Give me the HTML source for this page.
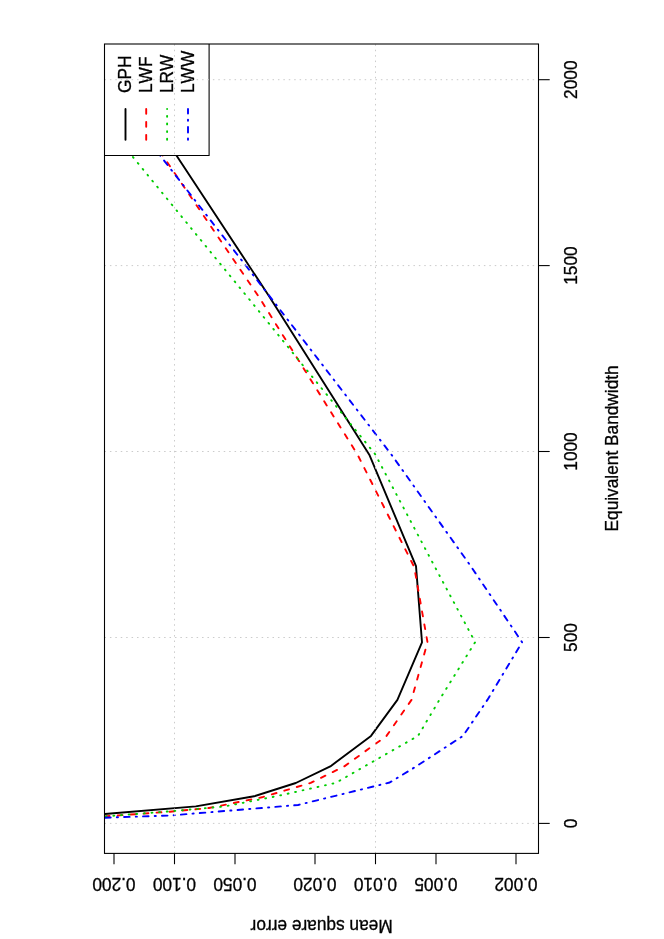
<!DOCTYPE html>
<html><head><meta charset="utf-8"><title>plot</title>
<style>
html,body{margin:0;padding:0;background:#fff;}
body{width:664px;height:939px;overflow:hidden;}
svg{display:block;will-change:transform;opacity:0.9999;}
text{font-family:"Liberation Sans",sans-serif;font-size:17.3px;fill:#000;font-kerning:none;stroke:#000;stroke-width:0.3px;}
</style></head><body>
<svg width="664" height="939" viewBox="0 0 664 939">
<rect x="0" y="0" width="664" height="939" fill="#fff"/>
<defs><clipPath id="c"><rect x="104.5" y="44.0" width="434.0" height="809.4"/></clipPath></defs>
<g clip-path="url(#c)" fill="none" stroke-width="1.9" stroke-linecap="round" stroke-linejoin="round">
<polyline points="60.0,817.8 104.8,814.0 195.8,806.4 254.1,796.3 295.8,783.0 330.3,766.4 371.0,735.9 397.4,699.9 422.0,642.3 416.0,566.1 369.3,454.7 269.1,296.3 176.8,155.9 122.6,73.4" stroke="#000"/>
<polyline points="60.0,819.6 104.8,816.4 170.0,811.7 209.0,808.0 262.0,797.3 310.7,782.9 344.3,766.4 386.5,735.9 411.5,699.9 427.5,642.3 414.2,567.0 357.6,454.7 258.5,296.3 162.7,155.6 106.0,73.4" stroke="#ff0000" stroke-dasharray="4.85 8.15" stroke-dashoffset="7.2"/>
<polyline points="60.0,819.9 104.8,816.4 170.0,811.3 225.0,806.4 278.0,795.9 335.8,782.9 364.5,766.4 418.0,735.9 439.4,699.9 475.2,642.2 434.3,565.8 375.0,454.0 246.8,296.3 132.0,155.9 64.5,73.4" stroke="#00cd00" stroke-dasharray="0.9 6.75"/>
<polyline points="60.0,819.2 104.8,817.7 170.0,815.5 298.0,805.0 389.7,782.5 416.2,766.4 463.0,735.9 487.4,699.9 522.1,642.2 470.5,565.8 391.5,454.7 269.7,296.3 160.2,155.6 96.0,73.4" stroke="#0000ff" stroke-dasharray="1.15 6.125 5.55 6.125"/>
</g>
<rect x="104.5" y="44.0" width="104.6" height="111.5" fill="#fff"/>
<polyline points="104.5,155.5 209.1,155.5 209.1,44.0" fill="none" stroke="#000" stroke-width="1.08"/>
<line x1="125.5" y1="139.7" x2="125.5" y2="108.9" stroke="#000" stroke-width="1.9" stroke-linecap="round"/>
<text transform="translate(131.2,93.0) rotate(-90) scale(1,1.04)">GPH</text>
<line x1="146.2" y1="139.7" x2="146.2" y2="108.9" stroke="#ff0000" stroke-width="1.9" stroke-linecap="round" stroke-dasharray="4.85 8.15"/>
<text transform="translate(151.89999999999998,93.0) rotate(-90) scale(1,1.04)">LWF</text>
<line x1="167.1" y1="139.7" x2="167.1" y2="108.9" stroke="#00cd00" stroke-width="1.9" stroke-linecap="round" stroke-dasharray="0.9 6.75"/>
<text transform="translate(172.79999999999998,93.0) rotate(-90) scale(1,1.04)">LRW</text>
<line x1="188.0" y1="139.7" x2="188.0" y2="108.9" stroke="#0000ff" stroke-width="1.9" stroke-linecap="round" stroke-dasharray="1.15 6.125 5.55 6.125"/>
<text transform="translate(193.7,93.0) rotate(-90) scale(1,1.04)">LWW</text>
<line x1="104.5" y1="823.4" x2="538.5" y2="823.4" stroke="#cbcbcb" stroke-width="1" stroke-dasharray="1.5 3.92"/>
<line x1="104.5" y1="637.5" x2="538.5" y2="637.5" stroke="#cbcbcb" stroke-width="1" stroke-dasharray="1.5 3.92"/>
<line x1="104.5" y1="451.5" x2="538.5" y2="451.5" stroke="#cbcbcb" stroke-width="1" stroke-dasharray="1.5 3.92"/>
<line x1="104.5" y1="265.6" x2="538.5" y2="265.6" stroke="#cbcbcb" stroke-width="1" stroke-dasharray="1.5 3.92"/>
<line x1="104.5" y1="79.7" x2="538.5" y2="79.7" stroke="#cbcbcb" stroke-width="1" stroke-dasharray="1.5 3.92"/>
<line x1="174.5" y1="853.4" x2="174.5" y2="44.0" stroke="#cbcbcb" stroke-width="1" stroke-dasharray="1.5 3.92"/>
<line x1="375.5" y1="853.4" x2="375.5" y2="44.0" stroke="#cbcbcb" stroke-width="1" stroke-dasharray="1.5 3.92"/>
<rect x="104.5" y="44.0" width="434.0" height="809.4" fill="none" stroke="#000" stroke-width="1.08"/>
<line x1="538.5" y1="823.4" x2="549.7" y2="823.4" stroke="#000" stroke-width="1.08"/>
<text text-anchor="middle" transform="translate(576.7,823.4) rotate(-90) scale(1,1.04)">0</text>
<line x1="538.5" y1="637.5" x2="549.7" y2="637.5" stroke="#000" stroke-width="1.08"/>
<text text-anchor="middle" transform="translate(576.7,637.5) rotate(-90) scale(1,1.04)">500</text>
<line x1="538.5" y1="451.5" x2="549.7" y2="451.5" stroke="#000" stroke-width="1.08"/>
<text text-anchor="middle" transform="translate(576.7,451.5) rotate(-90) scale(1,1.04)">1000</text>
<line x1="538.5" y1="265.6" x2="549.7" y2="265.6" stroke="#000" stroke-width="1.08"/>
<text text-anchor="middle" transform="translate(576.7,265.6) rotate(-90) scale(1,1.04)">1500</text>
<line x1="538.5" y1="79.7" x2="549.7" y2="79.7" stroke="#000" stroke-width="1.08"/>
<text text-anchor="middle" transform="translate(576.7,79.7) rotate(-90) scale(1,1.04)">2000</text>
<line x1="114.0" y1="853.4" x2="114.0" y2="864.1999999999999" stroke="#000" stroke-width="1.08"/>
<text text-anchor="middle" transform="translate(114.0,878.0) rotate(180) scale(1,1.04)">0.200</text>
<line x1="174.5" y1="853.4" x2="174.5" y2="864.1999999999999" stroke="#000" stroke-width="1.08"/>
<text text-anchor="middle" transform="translate(174.5,878.0) rotate(180) scale(1,1.04)">0.100</text>
<line x1="235.0" y1="853.4" x2="235.0" y2="864.1999999999999" stroke="#000" stroke-width="1.08"/>
<text text-anchor="middle" transform="translate(235.0,878.0) rotate(180) scale(1,1.04)">0.050</text>
<line x1="315.0" y1="853.4" x2="315.0" y2="864.1999999999999" stroke="#000" stroke-width="1.08"/>
<text text-anchor="middle" transform="translate(315.0,878.0) rotate(180) scale(1,1.04)">0.020</text>
<line x1="375.5" y1="853.4" x2="375.5" y2="864.1999999999999" stroke="#000" stroke-width="1.08"/>
<text text-anchor="middle" transform="translate(375.5,878.0) rotate(180) scale(1,1.04)">0.010</text>
<line x1="436.0" y1="853.4" x2="436.0" y2="864.1999999999999" stroke="#000" stroke-width="1.08"/>
<text text-anchor="middle" transform="translate(436.0,878.0) rotate(180) scale(1,1.04)">0.005</text>
<line x1="516.0" y1="853.4" x2="516.0" y2="864.1999999999999" stroke="#000" stroke-width="1.08"/>
<text text-anchor="middle" transform="translate(516.0,878.0) rotate(180) scale(1,1.04)">0.002</text>
<text text-anchor="middle" transform="translate(618.4,448.4) rotate(-90) scale(1,1.04)">Equivalent Bandwidth</text>
<text text-anchor="middle" transform="translate(321.6,919.8) rotate(180) scale(1,1.04)">Mean square error</text>
</svg></body></html>
